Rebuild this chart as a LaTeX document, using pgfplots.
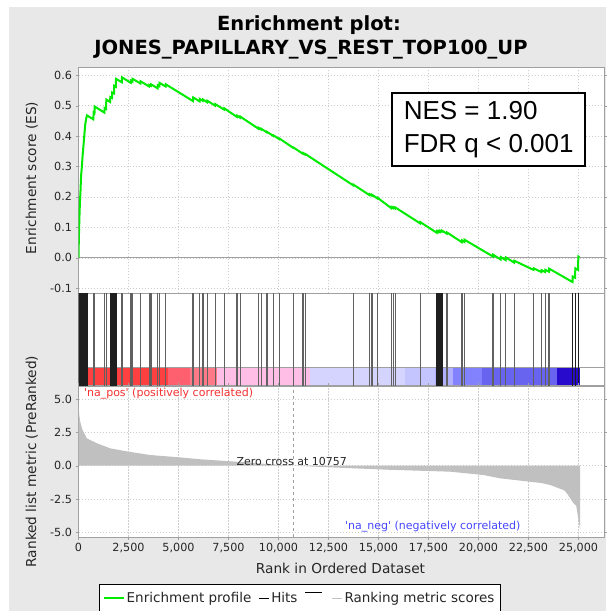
\documentclass[border=0pt]{standalone}
\usepackage{pgfplots}
\pgfplotsset{compat=1.18}
\usepackage{fontspec}
\setmainfont{DejaVu Sans}
\newfontfamily\boxfont{Liberation Sans}

\definecolor{bgpanel}{RGB}{232,232,232}
\definecolor{framegray}{RGB}{160,160,160}
\definecolor{gridgray}{RGB}{205,205,205}
\definecolor{esgreen}{RGB}{0,235,0}
\definecolor{metricgray}{RGB}{192,192,192}
\definecolor{posred}{RGB}{245,50,50}
\definecolor{negblue}{RGB}{70,70,255}
% colour bar segments, red (positive) to blue (negative)
\definecolor{cbA}{RGB}{255,64,64}
\definecolor{cbB}{RGB}{255,96,112}
\definecolor{cbC}{RGB}{255,122,136}
\definecolor{cbD}{RGB}{255,190,230}
\definecolor{cbE}{RGB}{212,212,255}
\definecolor{cbF}{RGB}{196,196,255}
\definecolor{cbG}{RGB}{176,176,255}
\definecolor{cbH}{RGB}{130,130,255}
\definecolor{cbI}{RGB}{105,100,240}
\definecolor{cbJ}{RGB}{40,10,205}

\pgfplotsset{
  gseapanel/.style={
    scale only axis,
    width=525.5pt,
    xmin=0, xmax=26275,
    axis background/.style={fill=white},
    axis line style={framegray},
    tick align=outside,
    major tick length=3pt,
    tick style={framegray},
    xtick={0,2500,5000,7500,10000,12500,15000,17500,20000,22500,25000},
    scaled x ticks=false,
    grid style={dash pattern=on 1.5pt off 1.5pt, gridgray},
    tick label style={font=\fontsize{11.2}{13}\selectfont, text=black!85},
    /pgf/number format/assume math mode=true,
  },
  onedecimal/.style={
    yticklabel style={/pgf/number format/fixed,
      /pgf/number format/fixed zerofill,
      /pgf/number format/precision=1},
  },
}

\begin{document}
\begin{tikzpicture}
\path[use as bounding box] (0,0) rectangle (606pt,611pt);
\fill[bgpanel] (9pt,0pt) rectangle (606pt,603.5pt);

% titles and axis labels
\node[font=\bfseries\fontsize{19.5}{22}\selectfont] at (309pt,586pt) {Enrichment plot:};
\node[font=\bfseries\fontsize{19.5}{22}\selectfont] at (311pt,561pt) {JONES\_PAPILLARY\_VS\_REST\_TOP100\_UP};
\node[rotate=90, font=\fontsize{13.7}{16}\selectfont, text=black!85] at (31.7pt,433pt) {Enrichment score (ES)};
\node[rotate=90, font=\fontsize{13.7}{16}\selectfont, text=black!85] at (31.7pt,149.5pt) {Ranked list metric (PreRanked)};
\node[font=\fontsize{13.7}{16}\selectfont, text=black!85] at (340.5pt,43pt) {Rank in Ordered Dataset};

%---------------- enrichment score panel
\begin{axis}[gseapanel, onedecimal,
  at={(78.5pt,317.7pt)}, anchor=south west,
  height=226.6pt,
  ymin=-0.117, ymax=0.628,
  ytick={-0.1,0,0.1,0.2,0.3,0.4,0.5,0.6},
  xticklabels={}, xtick style={draw=none},
  grid=major,
]
\addplot[framegray, line width=0.8pt] coordinates {(0,0) (26275,0)};
\addplot[esgreen, line width=2pt] coordinates {
  (0,0) (20,0.07) (45,0.13) (70,0.18) (100,0.22) (130,0.27) (170,0.30)
  (210,0.34) (250,0.37) (300,0.41) (340,0.44) (380,0.455) (420,0.468)
  (740,0.455) (760,0.478) (800,0.476) (810,0.497) (1295,0.477) (1305,0.492)
  (1380,0.489) (1390,0.52) (1580,0.512) (1590,0.528) (1675,0.525) (1685,0.543)
  (1775,0.54) (1785,0.565) (1865,0.562) (1875,0.588) (2165,0.577) (2175,0.593)
  (2615,0.575) (2625,0.582) (2695,0.579) (2705,0.588) (3095,0.573) (3105,0.58)
  (3530,0.563) (3540,0.568) (3620,0.565) (3630,0.57) (3955,0.557) (3965,0.567)
  (4040,0.564) (4050,0.575) (4355,0.563) (4365,0.57) (5725,0.515) (5735,0.527)
  (6055,0.514) (6065,0.522) (6215,0.516) (6225,0.52) (6435,0.511) (6445,0.516)
  (6830,0.5) (6840,0.505) (7280,0.487) (7290,0.491) (7920,0.463) (7930,0.467)
  (8080,0.4604) (8090,0.464) (9000,0.424) (9010,0.427) (9130,0.4217) (9140,0.424)
  (9415,0.412) (9425,0.414) (9745,0.4) (9755,0.402) (10030,0.39) (10040,0.392)
  (10745,0.361) (10755,0.362) (11215,0.342) (11225,0.344) (11330,0.339) (11340,0.341)
  (13745,0.2376) (13755,0.240) (14545,0.206) (14555,0.209) (14665,0.204) (14675,0.207)
  (14945,0.195) (14955,0.197) (15635,0.163) (15645,0.167) (15735,0.163) (15745,0.166)
  (15835,0.162) (15845,0.165) (17080,0.113) (17090,0.117) (17915,0.082) (17925,0.087)
  (17995,0.084) (18005,0.088) (18075,0.085) (18085,0.089) (18165,0.086) (18175,0.089)
  (18415,0.079) (18425,0.083) (19165,0.051) (19175,0.057) (19295,0.052) (19305,0.059)
  (20720,0.004) (20730,0.01) (21110,-0.006) (21120,0.002) (21360,-0.008) (21370,0.001)
  (21780,-0.016) (21790,-0.01) (22750,-0.040) (22760,-0.035) (23140,-0.047) (23150,-0.041)
  (23330,-0.047) (23340,-0.04) (23525,-0.046) (23535,-0.036) (24700,-0.08) (24710,-0.062)
  (24830,-0.066) (24840,-0.035) (24980,-0.04) (24990,0.004) (25050,0.002)
};
\node[draw=black, line width=2pt, fill=white, inner xsep=0pt,
      align=left, minimum width=192.7pt, minimum height=72.7pt,
      font=\boxfont\fontsize{26}{33}\selectfont]
  at (axis cs:20510,0.421) {NES = 1.90\\FDR q < 0.001};
\end{axis}

%---------------- hits panel with colour bar
\begin{axis}[gseapanel,
  at={(78.5pt,225pt)}, anchor=south west,
  height=92.7pt,
  ymin=0, ymax=1, ytick=\empty,
  xticklabels={}, xtick style={draw=none},
]
\addplot[fill=cbA, draw=none] coordinates {(0,0.01) (4450,0.01) (4450,0.205) (0,0.205)};
\addplot[fill=cbB, draw=none] coordinates {(4450,0.01) (5550,0.01) (5550,0.205) (4450,0.205)};
\addplot[fill=cbC, draw=none] coordinates {(5550,0.01) (6900,0.01) (6900,0.205) (5550,0.205)};
\addplot[fill=cbD, draw=none] coordinates {(6900,0.01) (11550,0.01) (11550,0.205) (6900,0.205)};
\addplot[fill=cbE, draw=none] coordinates {(11550,0.01) (16300,0.01) (16300,0.205) (11550,0.205)};
\addplot[fill=cbF, draw=none] coordinates {(16300,0.01) (17800,0.01) (17800,0.205) (16300,0.205)};
\addplot[fill=cbG, draw=none] coordinates {(17800,0.01) (18700,0.01) (18700,0.205) (17800,0.205)};
\addplot[fill=cbH, draw=none] coordinates {(18700,0.01) (20150,0.01) (20150,0.205) (18700,0.205)};
\addplot[fill=cbI, draw=none] coordinates {(20150,0.01) (23900,0.01) (23900,0.205) (20150,0.205)};
\addplot[fill=cbJ, draw=none] coordinates {(23900,0.01) (25080,0.01) (25080,0.205) (23900,0.205)};
\addplot[framegray, line width=0.6pt] coordinates {(0,0.205) (26275,0.205)};
\addplot[framegray, line width=0.6pt] coordinates {(0,0.01) (26275,0.01)};
% isolated hits (mid grey)
\addplot[ycomb, black!62, line width=1.3pt] coordinates {
  (750,1) (800,1) (1300,1) (1385,1) (2170,1) (2620,1) (2700,1) (3100,1)
  (3535,1) (3625,1) (3960,1) (4045,1) (4360,1) (5730,1) (6060,1) (6220,1)
  (6440,1) (6835,1) (7285,1) (7925,1) (8085,1) (9005,1) (9135,1) (9420,1)
  (9750,1) (10035,1) (10750,1) (11220,1) (11335,1) (13750,1) (14550,1)
  (14670,1) (14950,1) (15640,1) (15740,1) (15840,1) (17085,1) (18420,1)
  (19170,1) (19300,1) (20725,1) (21115,1) (21365,1) (21785,1) (22755,1)
  (23145,1) (23335,1) (23530,1)
};
% crowded hits (near black)
\addplot[ycomb, black!88, line width=1.3pt] coordinates {
  (5,1) (20,1) (35,1) (50,1) (65,1) (80,1) (95,1) (110,1) (125,1) (140,1)
  (160,1) (180,1) (200,1) (220,1) (245,1) (270,1) (300,1) (330,1) (360,1)
  (390,1) (420,1) (1585,1) (1680,1) (1780,1) (1870,1)
  (17920,1) (18000,1) (18080,1) (18170,1) (24705,1) (24835,1) (24985,1)
};
\end{axis}

%---------------- ranked list metric panel
\begin{axis}[gseapanel, onedecimal,
  at={(78.5pt,74.3pt)}, anchor=south west,
  height=150.7pt,
  ymin=-5.33, ymax=5.98,
  ytick={-5,-2.5,0,2.5,5},
  xticklabel style={/pgf/number format/fixed, /pgf/number format/1000 sep={,}},
  grid=major,
  legend columns=4,
  legend style={at={(0.039,-0.314)}, anchor=north west, draw=black,
    fill=white, font=\fontsize{13.5}{16}\selectfont, text=black!85,
    inner ysep=6pt, inner xsep=4pt,
    /tikz/every even column/.append style={column sep=5pt}},
]
\addlegendimage{legend image code/.code={\draw[esgreen, line width=1.5pt] (0pt,0pt) -- (20pt,0pt);}}
\addlegendentry{Enrichment profile}
\addlegendimage{legend image code/.code={\draw[black, line width=1pt] (0pt,0pt) -- (10pt,0pt);}}
\addlegendentry{Hits}
\addlegendimage{legend image code/.code={\draw[black, line width=1pt] (0pt,6pt) -- (17pt,6pt);}}
\addlegendentry{}
\addlegendimage{legend image code/.code={\draw[metricgray, line width=1pt] (0pt,0pt) -- (10pt,0pt);}}
\addlegendentry{Ranking metric scores}

\addplot[fill=metricgray, draw=none, forget plot] coordinates {
  (0,0) (0,4.9) (30,3.9) (85,3.3) (200,2.68) (420,2.05) (920,1.68) (1585,1.3)
  (2500,1.05) (3585,0.8) (5000,0.63) (6085,0.48) (7875,0.3) (9500,0.12)
  (10757,0) (13000,-0.15) (15410,-0.3) (18585,-0.45) (20240,-0.7) (21085,-0.95)
  (23140,-1.3) (23585,-1.45) (24290,-1.85) (24420,-2.07) (24750,-2.82)
  (24885,-3.0) (25000,-4.07) (25080,-4.8) (25080,0)
};
\addplot[framegray, dash pattern=on 3pt off 3pt, forget plot] coordinates {(10757,-5.33) (10757,5.98)};
\node[font=\fontsize{11}{13}\selectfont, text=black!85] at (axis cs:10660,0.32) {Zero cross at 10757};
\node[anchor=west, font=\fontsize{11}{13}\selectfont, text=posred] at (axis cs:100,5.4)
  {\textquotesingle na\_pos\textquotesingle{} (positively correlated)};
\node[anchor=east, font=\fontsize{11}{13}\selectfont, text=negblue] at (axis cs:22275,-4.58)
  {\textquotesingle na\_neg\textquotesingle{} (negatively correlated)};
\end{axis}
\end{tikzpicture}
\end{document}
